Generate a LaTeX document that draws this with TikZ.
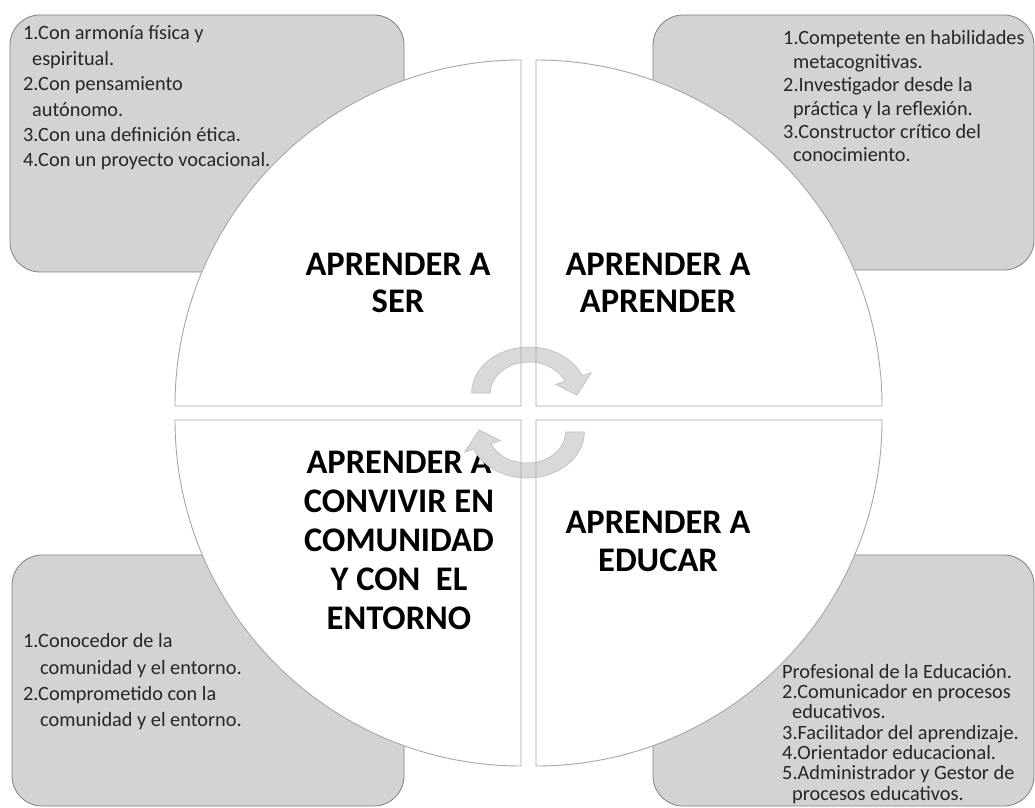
\documentclass[tikz,border=0pt]{standalone}
\usepackage{fontspec}
\setmainfont{Carlito}
\definecolor{boxfill}{HTML}{D3D3D3}
\definecolor{boxline}{HTML}{808080}
\definecolor{quadline}{HTML}{A6A6A6}
\definecolor{arrowfill}{HTML}{D9D9D9}
\definecolor{arrowline}{HTML}{BDBDBD}
\tikzset{
  infobox/.style={draw=boxline, fill=boxfill, line width=0.8pt, rounded corners=30pt},
  quadfill/.style={fill=white},
  quadedge/.style={draw=quadline, line width=0.9pt},
  boxtext/.style={anchor=north west, inner sep=0pt, align=left, text=black!85, font=\fontsize{20.3}{#1}\selectfont},
  titletext/.style={anchor=north, inner sep=0pt, align=center, font=\bfseries\fontsize{34.5}{#1}\selectfont},
  cycarrow/.style={fill=arrowfill, draw=arrowline, line width=0.6pt}
}
\newcommand\fstrut{\rule{0pt}{17pt}}
\newcommand\tstrut{\rule{0pt}{25pt}}
\begin{document}
\begin{tikzpicture}[x=1pt,y=1pt]
\fill[white] (0,0) rectangle (1035,807);
\useasboundingbox (0,0) rectangle (1035,807);
% grey boxes
\path[infobox] (10,535) rectangle (404,792);
\path[infobox] (653,537) rectangle (1034,792);
\path[infobox] (12,1) rectangle (404,252);
\path[infobox] (653,1) rectangle (1034,252);
% box texts
\node[boxtext=25.4] (tl) at (23,784.3) {\fstrut 1.Con armonía física y\\
\hspace*{9pt}espiritual.\\
2.Con pensamiento\\
\hspace*{9pt}autónomo.\\
3.Con una definición ética.\\
4.Con un proyecto vocacional.};
\node[boxtext=23.4] (tr) at (783,779.3) {\fstrut 1.Competente en habilidades\\
\hspace*{10pt}metacognitivas.\\
2.Investigador desde la\\
\hspace*{10pt}práctica y la reflexión.\\
3.Constructor crítico del\\
\hspace*{10pt}conocimiento.};
\node[boxtext=26.3] (bl) at (23,176.3) {\fstrut 1.Conocedor de la\\
\hspace*{17pt}comunidad y el entorno.\\
2.Comprometido con la\\
\hspace*{17pt}comunidad y el entorno.};
\node[boxtext=20.3] (br) at (782,146) {\fstrut Profesional de la Educación.\\
2.Comunicador en procesos\\
\hspace*{10pt}educativos.\\
3.Facilitador del aprendizaje.\\
4.Orientador educacional.\\
5.Administrador y Gestor de\\
\hspace*{10pt}procesos educativos.};
% quadrant fills
\foreach \cx/\cy/\a in {521/401/90, 536/401/0, 521/387/180, 536/387/270}
  \path[quadfill] (\cx,\cy) -- ++(\a:346) arc[start angle=\a, delta angle=90, radius=346] -- cycle;
% titles
\node[titletext=37.5] (ser) at (398,557) {\tstrut APRENDER A\\SER};
\node[titletext=37.5] (aprender) at (658,557) {\tstrut APRENDER A\\APRENDER};
\node[titletext=39] (convivir) at (399,359) {\tstrut APRENDER A\\CONVIVIR EN\\COMUNIDAD\\Y CON\ \ EL\\ENTORNO};
\node[titletext=38.5] (educar) at (658,299) {\tstrut APRENDER A\\EDUCAR};
% circular arrows
\begin{scope}[shift={(529,414)}, xscale=1.247]
  \path[cycarrow] (180:46) arc[start angle=180, end angle=22, radius=46] -- (22:54) -- (-3:38.5) -- (22:23) -- (22:31) arc[start angle=22, end angle=180, radius=31] -- cycle;
\end{scope}
\begin{scope}[shift={(527,375)}, xscale=1.247, rotate=180]
  \path[cycarrow] (180:46) arc[start angle=180, end angle=22, radius=46] -- (22:54) -- (-3:38.5) -- (22:23) -- (22:31) arc[start angle=22, end angle=180, radius=31] -- cycle;
\end{scope}
% quadrant outlines
\foreach \cx/\cy/\a in {521/401/90, 536/401/0, 521/387/180, 536/387/270}
  \path[quadedge] (\cx,\cy) -- ++(\a:346) arc[start angle=\a, delta angle=90, radius=346] -- cycle;
\end{tikzpicture}
\end{document}
